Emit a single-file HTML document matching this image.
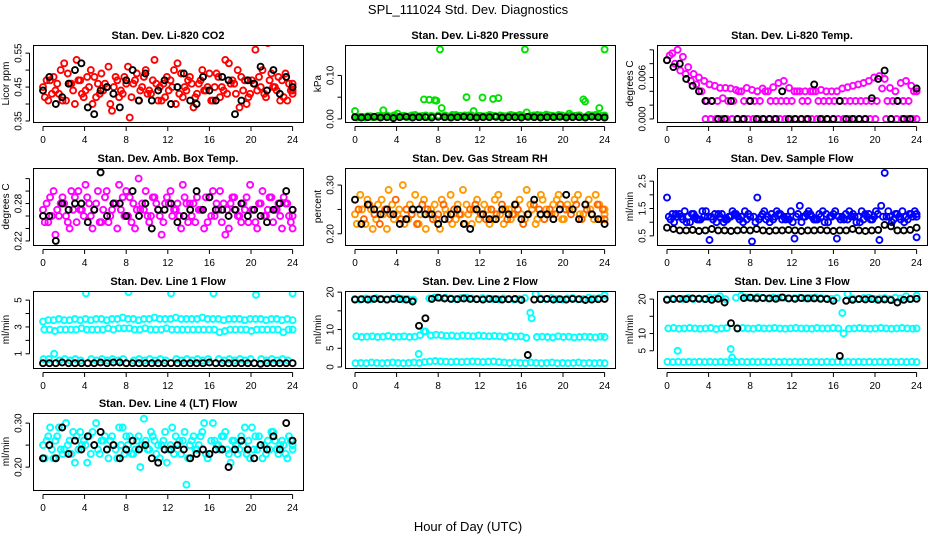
<!DOCTYPE html>
<html><head><meta charset="utf-8"><style>
html,body{margin:0;padding:0;background:#fff;}
svg{display:block;font-family:"Liberation Sans",Arial,sans-serif;}
</style></head><body>
<svg id="chart" width="936" height="540" viewBox="0 0 936 540" xmlns="http://www.w3.org/2000/svg">
<text x="468" y="14" font-size="13" text-anchor="middle">SPL_111024  Std. Dev. Diagnostics</text>
<text x="468" y="531" font-size="13" text-anchor="middle">Hour of Day (UTC)</text>
</svg>
<script>
const xTicks=[0,4,8,12,16,20,24];
// CO2
const co2A=[0.45,0.41,0.48,0.43,0.52,0.46,0.40,0.47,0.44,0.50,0.42,0.49,0.45,0.38,0.47,0.43,0.51,0.46,0.41,0.48,0.44,0.53,0.45,0.42,0.47,0.40,0.49,0.44,0.46,0.43,0.50,0.45,0.41,0.48,0.44,0.52,0.46,0.39,0.47,0.43,0.56,0.45,0.42,0.49,0.44,0.47,0.41,0.46];
const co2B=[0.42,0.47,0.44,0.50,0.41,0.46,0.53,0.43,0.48,0.40,0.46,0.44,0.51,0.45,0.42,0.48,0.36,0.47,0.44,0.50,0.43,0.46,0.41,0.48,0.45,0.52,0.42,0.47,0.39,0.46,0.44,0.49,0.45,0.42,0.53,0.46,0.43,0.48,0.40,0.47,0.44,0.50,0.58,0.45,0.48,0.42,0.46,0.44];
const co2C=[0.47,0.43,0.46,0.41,0.49,0.44,0.47,0.42,0.45,0.48,0.43,0.46,0.40,0.48,0.44,0.46,0.42,0.49,0.45,0.43,0.47,0.41,0.46,0.44,0.50,0.43,0.45,0.48,0.42,0.47,0.44,0.41,0.49,0.45,0.43,0.47,0.50,0.44,0.42,0.46,0.48,0.43,0.47,0.45,0.41,0.49,0.44,0.43];
const co2K=[0.44,0.48,0.40,0.42,0.46,0.50,0.52,0.39,0.37,0.44,0.45,0.43,0.39,0.47,0.50,0.41,0.49,0.41,0.44,0.47,0.40,0.45,0.49,0.41,0.40,0.48,0.44,0.41,0.48,0.47,0.37,0.41,0.47,0.46,0.51,0.44,0.50,0.43,0.48,0.45];
// Pressure
const presA=[0.018,0.004,0.003,0.006,0.005,0.007,0.008,0.006,0.012,0.007,0.005,0.008,0.006,0.045,0.044,0.043,0.160,0.008,0.006,0.009,0.007,0.050,0.008,0.006,0.049,0.007,0.046,0.048,0.006,0.008,0.007,0.009,0.160,0.007,0.006,0.008,0.010,0.007,0.006,0.008,0.007,0.006,0.008,0.045,0.009,0.007,0.025,0.160];
const presB=[0.003,0.005,0.006,0.004,0.007,0.020,0.006,0.008,0.005,0.007,0.006,0.009,0.005,0.008,0.007,0.042,0.025,0.006,0.009,0.007,0.006,0.008,0.018,0.007,0.006,0.009,0.007,0.008,0.006,0.009,0.007,0.008,0.015,0.007,0.009,0.006,0.008,0.007,0.009,0.006,0.012,0.007,0.008,0.040,0.007,0.009,0.007,0.008];
const presC=[0.005,0.004,0.006,0.005,0.007,0.006,0.005,0.007,0.006,0.005,0.008,0.006,0.007,0.005,0.006,0.008,0.007,0.005,0.006,0.007,0.008,0.006,0.005,0.007,0.006,0.008,0.005,0.007,0.006,0.008,0.007,0.006,0.005,0.008,0.007,0.006,0.008,0.005,0.007,0.006,0.008,0.007,0.005,0.006,0.008,0.007,0.006,0.005];
const presK=[0.004,0.003,0.004,0.005,0.003,0.004,0.002,0.004,0.005,0.003,0.004,0.004,0.003,0.005,0.004,0.003,0.004,0.005,0.004,0.003,0.004,0.004,0.005,0.003,0.004,0.004,0.003,0.005,0.004,0.003,0.004,0.004,0.005,0.003,0.004,0.004,0.003,0.005,0.004,0.003];
// Li-820 temp
const tempA=[0.0085,0.0095,0.0100,0.0090,0.0075,0.0065,0.0060,0.0055,0.0050,0.0048,0.0045,0.0045,0.0044,0.0042,0.0040,0.0045,0.0042,0.0040,0.0044,0.0040,0.0046,0.0052,0.0055,0.0045,0.0040,0.0040,0.0040,0.0040,0.0040,0.0042,0.0040,0.0040,0.0040,0.0044,0.0046,0.0048,0.0050,0.0052,0.0055,0.0060,0.0062,0.0058,0.0045,0.0040,0.0052,0.0055,0.0048,0.0040];
const tempB=[0.0092,0.0080,0.0070,0.0065,0.0055,0.0050,0.0040,0.0026,0.0026,0.0026,0.0030,0.0026,0.0026,0.0040,0.0026,0.0026,0.0026,0.0026,0.0040,0.0026,0.0026,0.0026,0.0026,0.0026,0.0040,0.0026,0.0026,0.0040,0.0026,0.0026,0.0026,0.0026,0.0026,0.0026,0.0026,0.0026,0.0026,0.0026,0.0026,0.0026,0.0044,0.0026,0.0026,0.0026,0.0026,0.0026,0.0040,0.0040];
const tempC=[null,null,null,null,null,null,null,0,0,0,0,0,0,0,0,0,0,0,0,0,0,0,0,0,0,0,0,0,0,0,0,0,0,0,0,0,0,0,0,0,null,0,0,0,0,0,0,0];
const tempK=[0.0085,0.0075,0.0080,0.0058,0.0048,0.0040,0.0026,0.0026,0,0,0.0026,0,0,0.0026,0,0,0,0,0.0040,0,0,0,0,0.0050,0,0,0,0.0026,0,0,0,0,0.0030,0.0058,0.0070,0,0.0026,0,0,0.0044];
// Amb box temp
const ambA=[0.27,0.25,0.30,0.26,0.28,0.24,0.29,0.27,0.31,0.26,0.28,0.25,0.30,0.27,0.24,0.29,0.26,0.28,0.32,0.27,0.25,0.29,0.26,0.28,0.30,0.27,0.24,0.28,0.26,0.29,0.27,0.25,0.30,0.27,0.28,0.24,0.29,0.26,0.27,0.31,0.25,0.28,0.26,0.29,0.27,0.24,0.28,0.26];
const ambB=[0.25,0.29,0.23,0.28,0.26,0.30,0.25,0.27,0.29,0.24,0.30,0.27,0.25,0.28,0.31,0.26,0.29,0.24,0.27,0.30,0.26,0.28,0.23,0.29,0.26,0.28,0.31,0.25,0.28,0.27,0.24,0.29,0.26,0.30,0.23,0.28,0.27,0.25,0.29,0.27,0.24,0.30,0.27,0.25,0.28,0.29,0.26,0.24];
const ambC=[0.28,0.26,0.27,0.29,0.25,0.27,0.30,0.26,0.28,0.27,0.25,0.29,0.26,0.28,0.27,0.30,0.25,0.27,0.28,0.26,0.29,0.27,0.25,0.28,0.27,0.26,0.29,0.28,0.25,0.27,0.29,0.26,0.28,0.25,0.27,0.29,0.26,0.28,0.25,0.27,0.28,0.26,0.29,0.27,0.26,0.28,0.25,0.27];
const ambK=[0.26,0.26,0.22,0.28,0.27,0.28,0.28,0.25,0.27,0.33,0.26,0.28,0.28,0.26,0.30,0.26,0.28,0.24,0.27,0.27,0.28,0.25,0.26,0.27,0.30,0.27,0.29,0.27,0.27,0.26,0.27,0.28,0.26,0.27,0.26,0.25,0.27,0.28,0.30,0.27];
// RH
const rhA=[0.24,0.28,0.22,0.25,0.23,0.27,0.21,0.26,0.24,0.30,0.23,0.25,0.22,0.27,0.24,0.26,0.21,0.25,0.28,0.23,0.24,0.26,0.22,0.27,0.24,0.25,0.23,0.28,0.22,0.25,0.24,0.27,0.23,0.26,0.22,0.28,0.25,0.24,0.27,0.23,0.26,0.25,0.28,0.24,0.27,0.23,0.26,0.24];
const rhB=[0.22,0.25,0.27,0.21,0.26,0.24,0.29,0.23,0.25,0.22,0.26,0.28,0.24,0.21,0.25,0.23,0.27,0.24,0.22,0.26,0.29,0.24,0.25,0.23,0.26,0.22,0.27,0.24,0.25,0.23,0.26,0.24,0.29,0.25,0.23,0.27,0.24,0.26,0.28,0.23,0.25,0.27,0.24,0.26,0.25,0.28,0.23,0.25];
const rhC=[0.25,0.23,0.26,0.24,0.22,0.25,0.24,0.27,0.23,0.25,0.24,0.22,0.26,0.25,0.23,0.24,0.26,0.23,0.25,0.24,0.22,0.25,0.26,0.24,0.23,0.25,0.24,0.26,0.23,0.24,0.25,0.22,0.24,0.26,0.25,0.23,0.25,0.24,0.26,0.25,0.24,0.26,0.23,0.25,0.24,0.26,0.25,0.23];
const rhK=[0.27,0.22,0.26,0.25,0.24,0.25,0.24,0.22,0.23,0.25,0.25,0.24,0.24,0.22,0.23,0.24,0.25,0.22,0.21,0.25,0.24,0.23,0.23,0.25,0.24,0.26,0.23,0.24,0.27,0.24,0.24,0.23,0.25,0.28,0.25,0.23,0.26,0.24,0.23,0.22];
// Sample flow
const sfA=[1.9,1.3,1.2,1.1,1.2,1.3,1.1,1.2,0.35,1.3,1.2,1.1,1.2,1.3,1.2,1.1,0.3,1.9,1.3,1.2,1.1,1.3,1.2,1.1,0.4,1.6,1.2,1.3,1.1,1.2,1.3,1.2,0.4,1.2,1.1,1.3,1.2,1.1,1.3,1.2,0.35,2.8,1.2,1.3,1.1,1.2,1.3,0.45];
const sfB=[1.2,1.0,1.3,1.4,1.0,1.2,1.1,1.4,1.2,1.0,1.3,1.1,1.4,1.2,1.0,1.3,1.2,1.1,1.4,1.0,1.2,1.3,1.1,1.4,1.2,1.0,1.3,1.2,1.1,1.4,1.0,1.3,1.2,1.1,1.4,1.2,1.0,1.3,1.1,1.4,1.6,1.2,1.0,1.3,1.4,1.1,1.2,1.3];
const sfC=[1.1,1.3,1.2,1.0,1.3,1.1,1.4,1.2,1.1,1.3,1.0,1.2,1.3,1.1,1.4,1.2,1.0,1.2,1.1,1.3,1.4,1.1,1.2,1.0,1.3,1.2,1.4,1.1,1.3,1.0,1.2,1.4,1.1,1.3,1.2,1.0,1.4,1.2,1.1,1.3,1.2,1.4,1.1,1.2,1.0,1.3,1.4,1.2];
const sfK=[0.8,0.75,0.7,0.7,0.72,0.68,0.7,0.75,0.7,0.7,0.68,0.7,0.72,0.7,0.75,0.7,0.68,0.7,0.7,0.72,0.7,0.68,0.7,0.7,0.72,0.7,0.68,0.7,0.7,0.75,0.7,0.68,0.7,0.72,0.9,0.85,0.7,0.7,0.72,0.8];
// Line 1
const l1A=[3.4,3.5,3.5,3.6,3.5,3.5,3.6,3.5,3.6,3.5,3.6,3.6,3.5,3.6,3.6,3.7,3.6,3.6,3.5,3.6,3.6,3.7,3.6,3.6,3.6,3.7,3.6,3.6,3.6,3.6,3.7,3.6,3.6,3.6,3.5,3.6,3.6,3.6,3.5,3.6,3.6,3.6,3.5,3.6,3.6,3.5,3.6,3.5];
const l1B=[2.8,2.8,2.7,2.8,2.8,2.8,2.8,2.9,2.8,2.8,2.8,2.8,2.9,2.8,2.9,2.9,2.9,2.8,2.8,2.9,2.8,2.8,2.8,2.9,2.8,2.8,2.8,2.8,2.8,2.8,2.8,2.8,2.8,2.6,2.7,2.8,2.8,2.8,2.8,2.7,2.8,2.8,2.8,2.8,2.8,2.6,2.8,2.8];
const l1C=[0.6,0.6,1.0,0.5,0.6,0.5,0.6,0.5,5.5,0.6,0.5,0.6,0.5,0.6,0.5,0.6,5.6,0.5,0.6,0.5,0.6,0.5,0.6,0.5,5.5,0.6,0.5,0.6,0.5,0.6,0.5,0.6,5.5,0.6,0.5,0.6,0.5,0.6,0.5,0.6,5.4,0.6,0.5,0.6,0.5,0.6,0.5,5.5];
const l1K=[0.3,0.3,0.3,0.35,0.3,0.3,0.3,0.3,0.3,0.35,0.3,0.35,0.35,0.3,0.3,0.3,0.3,0.3,0.3,0.3,0.3,0.3,0.3,0.3,0.3,0.3,0.35,0.3,0.3,0.3,0.3,0.3,0.3,0.3,0.25,0.3,0.3,0.3,0.3,0.3];
// Line 2
const l2A=[18.2,18.0,18.3,18.1,18.4,18.2,18.0,18.3,18.5,18.2,18.1,18.0,3.5,9.5,18.3,18.6,18.4,18.5,18.3,18.2,18.4,18.5,18.3,18.2,18.4,18.3,18.2,18.1,18.3,18.2,18.0,18.2,18.4,14.5,19.5,18.3,18.2,18.4,18.2,18.0,18.3,18.4,18.1,18.2,18.5,18.3,18.4,19.2];
const l2B=[8.2,8.0,8.1,8.2,8.0,8.1,8.3,8.0,8.1,8.2,8.0,8.1,8.5,9.5,8.4,8.6,8.5,8.3,8.4,8.2,8.4,8.3,8.2,8.4,8.3,8.2,8.3,8.2,8.0,8.3,8.1,8.2,7.8,13.0,8.0,8.1,8.0,7.9,8.2,8.0,8.1,7.9,8.0,8.1,8.0,7.9,8.1,8.0];
const l2C=[1.0,1.1,1.0,1.2,1.1,1.0,1.1,1.2,1.1,1.0,1.1,1.2,1.1,1.3,1.5,1.6,1.5,1.4,1.3,1.4,1.3,1.4,1.5,1.4,1.3,1.4,1.5,1.3,1.2,1.1,1.2,1.1,1.0,1.2,1.1,1.0,1.1,1.2,1.0,1.1,1.0,1.1,1.2,1.0,1.1,1.0,1.1,1.0];
const l2K=[18.0,18.1,18.0,18.2,18.1,18.0,18.2,18.1,18.0,17.5,11.0,13.0,18.2,18.5,18.3,18.2,18.1,18.3,18.2,18.1,18.0,18.2,18.1,18.0,18.1,18.2,17.9,3.2,18.0,18.1,18.2,18.0,18.1,18.0,18.2,18.1,17.9,18.0,18.1,18.2];
// Line 3
const l3A=[20.0,20.2,5.0,20.1,20.3,20.0,20.2,20.1,20.5,20.3,20.8,20.0,5.5,20.4,21.0,20.5,20.3,20.6,20.4,20.2,20.5,20.3,20.4,20.2,20.3,20.4,20.2,20.3,20.5,20.3,20.2,20.1,20.3,16.0,21.5,20.2,20.0,20.3,20.4,20.1,20.2,20.3,20.0,20.4,20.2,20.8,20.1,21.0];
const l3B=[11.5,11.6,11.4,11.5,11.6,11.5,11.4,11.5,11.6,11.3,11.5,11.6,3.0,11.5,11.6,11.5,11.4,11.6,11.5,11.5,11.6,11.5,11.4,11.5,11.6,11.5,11.5,11.4,11.6,11.5,11.5,11.6,11.5,10.0,11.4,11.5,11.6,11.5,11.4,11.5,11.6,11.5,11.4,11.5,11.6,11.5,11.4,11.5];
const l3C=[1.8,1.7,1.8,1.7,1.8,1.7,1.8,1.7,1.8,1.7,1.8,1.7,1.8,1.7,1.8,1.7,1.8,1.7,1.8,1.7,1.8,1.7,1.8,1.7,1.8,1.7,1.8,1.7,1.8,1.7,1.8,1.7,1.8,1.7,1.8,1.7,1.8,1.7,1.8,1.7,1.8,1.7,1.8,1.7,1.8,1.7,1.8,1.7];
const l3K=[19.8,20.0,20.1,20.0,20.2,20.1,20.0,19.8,20.1,19.0,13.0,11.5,20.3,20.4,20.2,20.3,20.2,20.1,20.5,20.2,20.1,20.3,20.2,20.2,20.1,20.0,19.5,3.5,19.5,19.8,20.0,19.9,20.0,19.8,19.9,19.7,19.0,19.8,20.0,20.1];
// Line 4
const l4A=[0.25,0.27,0.22,0.29,0.24,0.26,0.21,0.28,0.25,0.23,0.30,0.26,0.24,0.27,0.22,0.29,0.25,0.23,0.27,0.31,0.24,0.26,0.22,0.28,0.25,0.27,0.23,0.16,0.26,0.24,0.28,0.22,0.30,0.25,0.27,0.23,0.26,0.24,0.29,0.22,0.27,0.25,0.23,0.28,0.24,0.26,0.22,0.25];
const l4B=[0.22,0.29,0.26,0.24,0.30,0.23,0.27,0.25,0.21,0.28,0.24,0.26,0.22,0.25,0.29,0.23,0.27,0.24,0.20,0.26,0.28,0.23,0.25,0.21,0.29,0.24,0.26,0.22,0.27,0.25,0.30,0.23,0.26,0.24,0.28,0.21,0.25,0.27,0.23,0.29,0.24,0.22,0.26,0.28,0.23,0.25,0.27,0.24];
const l4C=[0.26,0.24,0.27,0.23,0.25,0.28,0.24,0.26,0.27,0.25,0.23,0.27,0.26,0.24,0.25,0.27,0.23,0.26,0.25,0.24,0.27,0.25,0.26,0.24,0.23,0.26,0.28,0.25,0.24,0.27,0.23,0.26,0.25,0.27,0.24,0.26,0.23,0.25,0.26,0.24,0.27,0.25,0.24,0.26,0.25,0.23,0.26,0.25];
const l4K=[0.22,0.25,0.22,0.29,0.23,0.26,0.24,0.27,0.25,0.28,0.24,0.25,0.22,0.24,0.26,0.24,0.25,0.22,0.21,0.24,0.24,0.25,0.24,0.22,0.23,0.24,0.23,0.24,0.24,0.20,0.24,0.26,0.24,0.22,0.25,0.24,0.27,0.24,0.30,0.26];

const NS="http://www.w3.org/2000/svg";
const svg=document.getElementById('chart');
function mk(tag,attrs,parent){const e=document.createElementNS(NS,tag);for(const k in attrs)e.setAttribute(k,attrs[k]);(parent||svg).appendChild(e);return e;}

const panels=[
 {name:'co2',title:'Stan. Dev. Li-820 CO2',ylab:'Licor ppm',col:0,row:0,dom:[0.347,0.574],ticks:[0.35,0.40,0.45,0.50,0.55],labs:['0.35','','0.45','','0.55'],series:[[co2A,'#ff0000',0],[co2B,'#ff0000',0.33],[co2C,'#ff0000',0.67]],black:co2K},
 {name:'pressure',title:'Stan. Dev. Li-820 Pressure',ylab:'kPa',col:1,row:0,dom:[-0.007,0.170],ticks:[0,0.05,0.10],labs:['0.00','','0.10'],series:[[presA,'#00e000',0],[presB,'#00e000',0.33],[presC,'#00e000',0.67]],black:presK},
 {name:'li820-temp',title:'Stan. Dev. Li-820 Temp.',ylab:'degrees C',col:2,row:0,dom:[-0.00044,0.0107],ticks:[0,0.002,0.004,0.006,0.008,0.010],labs:['0.000','','','0.006','',''],series:[[tempA,'#ff00ff',0],[tempB,'#ff00ff',0.5],[tempC,'#ff00ff',0.25]],black:tempK},
 {name:'amb-box-temp',title:'Stan. Dev. Amb. Box Temp.',ylab:'degrees C',col:0,row:1,dom:[0.2135,0.337],ticks:[0.22,0.24,0.26,0.28,0.30,0.32],labs:['0.22','','','0.28','',''],series:[[ambA,'#ff00ff',0],[ambB,'#ff00ff',0.33],[ambC,'#ff00ff',0.67]],black:ambK},
 {name:'gas-stream-rh',title:'Stan. Dev. Gas Stream RH',ylab:'percent',col:1,row:1,dom:[0.177,0.335],ticks:[0.20,0.25,0.30],labs:['0.20','','0.30'],series:[[rhA,'#ff9900',0],[rhB,'#ff9900',0.33],[rhC,'#ff6600',0.67]],black:rhK},
 {name:'sample-flow',title:'Stan. Dev. Sample Flow',ylab:'ml/min',col:2,row:1,dom:[0.167,2.98],ticks:[0.5,1.0,1.5,2.0,2.5],labs:['0.5','','1.5','','2.5'],series:[[sfA,'#0000ff',0],[sfB,'#0000ff',0.33],[sfC,'#0000ff',0.67]],black:sfK},
 {name:'line1-flow',title:'Stan. Dev. Line 1 Flow',ylab:'ml/min',col:0,row:2,dom:[-0.06,5.68],ticks:[1,2,3,4,5],labs:['1','','3','','5'],series:[[l1A,'#00ffff',0],[l1B,'#00ffff',0.25],[l1C,'#00ffff',0.1]],black:l1K},
 {name:'line2-flow',title:'Stan. Dev. Line 2 Flow',ylab:'ml/min',col:1,row:2,dom:[-0.27,20.3],ticks:[0,5,10,15,20],labs:['0','5','10','','20'],series:[[l2A,'#00ffff',0],[l2B,'#00ffff',0.25],[l2C,'#00ffff',0.1]],black:l2K},
 {name:'line3-flow',title:'Stan. Dev. Line 3 Flow',ylab:'ml/min',col:2,row:2,dom:[0,22.35],ticks:[5,10,15,20],labs:['5','10','','20'],series:[[l3A,'#00ffff',0],[l3B,'#00ffff',0.25],[l3C,'#00ffff',0.1]],black:l3K},
 {name:'line4-flow',title:'Stan. Dev. Line 4 (LT) Flow',ylab:'ml/min',col:0,row:3,dom:[0.148,0.323],ticks:[0.20,0.25,0.30],labs:['0.20','','0.30'],series:[[l4A,'#00ffff',0],[l4B,'#00ffff',0.33],[l4C,'#00ffff',0.67]],black:l4K}
];
const colLeft=[33,345,657], rowTop=[45,168,291,413], W=270, H=77;

panels.forEach(p=>{
  const L=colLeft[p.col], T=rowTop[p.row], B=T+H;
  const g=mk('g',{});
  
  
  const xs=h=>L+10+h*10.4;
  const ys=v=>B-(v-p.dom[0])/(p.dom[1]-p.dom[0])*H;
  const clipId='clip-'+p.name;
  const cp=mk('clipPath',{id:clipId},g);
  mk('rect',{x:L,y:T,width:W,height:H},cp);
  const pts=mk('g',{'clip-path':'url(#'+clipId+')'},g);
  
  
  p.series.forEach(s=>{
    const arr=s[0], step=24/(arr.length-1);
    arr.forEach((v,i)=>{
      if(v===null) return;
      const c=mk('circle',{cx:xs(Math.min(24,i*step+s[2]*step)).toFixed(1),cy:ys(v).toFixed(1),r:3,fill:'none',stroke:s[1],'stroke-width':1.9},pts);
      
      
    });
  });
  const bstep=24/(p.black.length-1);
  p.black.forEach((v,i)=>{
    const c=mk('circle',{cx:xs(i*bstep).toFixed(1),cy:ys(v).toFixed(1),r:3,fill:'none',stroke:'#000','stroke-width':1.9},pts);
    
    
  });
  const box=mk('rect',{x:L+0.5,y:T+0.5,width:W,height:H,fill:'none',stroke:'#000','stroke-width':1},g);
  
  
  const t=mk('text',{x:L+W/2,y:T-6,'font-size':11,'font-weight':'bold','text-anchor':'middle'},g);
  t.textContent=p.title;
  
  
  mk('line',{x1:xs(0),x2:xs(24),y1:B+4.5,y2:B+4.5,stroke:'#000'},g);
  xTicks.forEach(h=>{
    mk('line',{x1:xs(h),x2:xs(h),y1:B+4.5,y2:B+9,stroke:'#000'},g);
    const tx=mk('text',{x:xs(h),y:B+21,'font-size':10,'text-anchor':'middle'},g);
    tx.textContent=h;
    
    
  });
  const ax=L-3.5;
  mk('line',{x1:ax,x2:ax,y1:ys(p.ticks[0]),y2:ys(p.ticks[p.ticks.length-1]),stroke:'#000'},g);
  p.ticks.forEach((v,i)=>{
    const y=ys(v);
    mk('line',{x1:ax-4,x2:ax,y1:y,y2:y,stroke:'#000'},g);
    if(p.labs[i]){
      const ty=mk('text',{x:0,y:0,'font-size':10,'text-anchor':'middle',transform:'translate('+(ax-8)+','+y+') rotate(-90)'},g);
      ty.textContent=p.labs[i];
      
      
    }
  });
  const yl=mk('text',{x:0,y:0,'font-size':10,'text-anchor':'middle',transform:'translate('+(L-24)+','+(T+H/2)+') rotate(-90)'},g);
  yl.textContent=p.ylab;
  
  
});
</script>
</body></html>
